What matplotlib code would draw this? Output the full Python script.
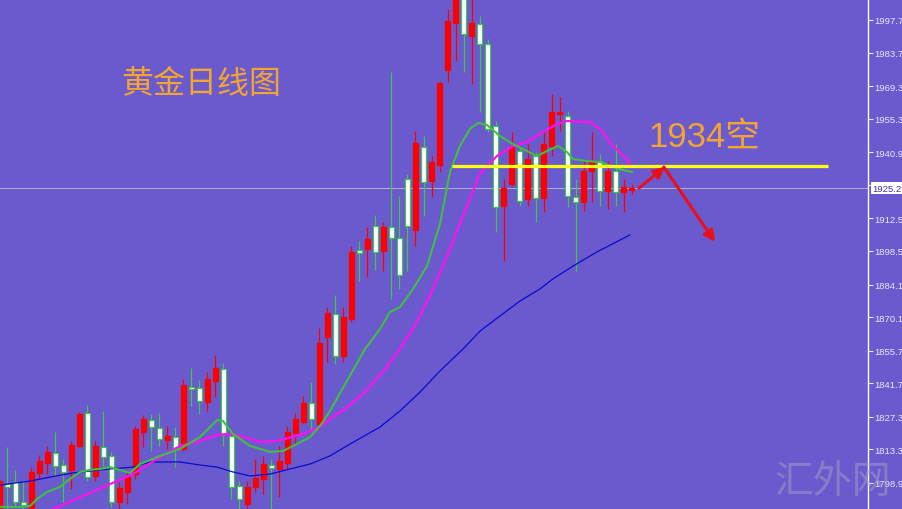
import matplotlib
matplotlib.use('Agg')
import matplotlib.pyplot as plt
import matplotlib.transforms as mtransforms

# daily gold candles (open, high, low, close)
opens = [1785.6, 1798.4, 1799.3, 1790.7, 1787.7, 1803.2, 1807.5, 1811.8, 1806.6, 1804.5,
         1814.8, 1828.9, 1801.9, 1814.3, 1810.5, 1790.7, 1795.0, 1802.7, 1820.8, 1825.9,
         1822.5, 1817.3, 1818.6, 1813.5, 1840.1, 1839.7, 1833.6, 1842.7, 1847.8, 1819.1,
         1797.6, 1789.9, 1797.2, 1800.6, 1806.6, 1804.9, 1807.5, 1820.3, 1825.1, 1833.2,
         1824.2, 1861.6, 1871.4, 1853.4, 1869.3, 1898.9, 1899.3, 1909.2, 1898.5, 1908.8,
         1904.1, 1929.4, 1907.5, 1943.2, 1928.6, 1935.4, 1976.2, 1996.4, 2009.0, 1990.8,
         1996.0, 1987.4, 1952.2, 1917.8, 1927.3, 1941.4, 1920.8, 1939.3, 1921.3, 1943.6,
         1957.3, 1956.5, 1921.7, 1919.5, 1932.8, 1937.1, 1924.3, 1932.8, 1923.8, 1924.7]
highs = [1801.4, 1814.3, 1804.5, 1799.7, 1805.7, 1810.9, 1814.8, 1820.8, 1809.2, 1816.9,
         1829.4, 1832.4, 1816.9, 1829.8, 1812.2, 1799.3, 1804.0, 1823.3, 1828.1, 1828.5,
         1828.9, 1823.3, 1822.9, 1843.5, 1848.3, 1843.1, 1846.5, 1853.8, 1850.4, 1819.9,
         1799.7, 1799.7, 1809.2, 1810.5, 1809.2, 1814.8, 1823.3, 1828.9, 1836.2, 1842.2,
         1865.4, 1874.4, 1879.6, 1874.4, 1900.6, 1902.8, 1908.8, 1914.0, 1910.9, 1975.4,
         1922.1, 1931.6, 1950.0, 1947.9, 1939.3, 1971.1, 2002.4, 2012.0, 2013.0, 2008.0,
         1999.4, 1989.5, 1954.3, 1929.4, 1949.6, 1943.2, 1944.4, 1941.0, 1950.0, 1965.9,
         1964.6, 1958.6, 1929.4, 1937.1, 1949.6, 1940.1, 1937.1, 1944.4, 1929.4, 1927.3]
lows = [1783.4, 1787.7, 1788.6, 1786.8, 1786.8, 1800.6, 1802.7, 1801.9, 1790.7, 1796.3,
        1814.3, 1799.7, 1799.7, 1806.2, 1788.6, 1787.7, 1789.9, 1800.6, 1814.3, 1812.6,
        1814.8, 1813.5, 1805.7, 1812.6, 1831.9, 1828.5, 1829.8, 1836.0, 1814.8, 1792.0,
        1787.7, 1787.7, 1795.0, 1794.2, 1787.7, 1792.9, 1804.9, 1815.6, 1824.2, 1822.1,
        1822.1, 1850.8, 1850.0, 1850.8, 1868.0, 1885.6, 1887.3, 1890.3, 1889.9, 1877.9,
        1882.2, 1889.9, 1900.6, 1913.5, 1921.7, 1932.4, 1971.1, 1980.1, 1975.4, 1970.2,
        1958.2, 1949.6, 1906.6, 1894.2, 1926.4, 1917.8, 1917.8, 1910.9, 1915.2, 1939.3,
        1950.0, 1917.4, 1889.9, 1915.7, 1919.5, 1917.8, 1916.5, 1917.8, 1915.2, 1923.0]
closes = [1799.7, 1797.2, 1790.7, 1789.4, 1803.6, 1808.3, 1812.2, 1806.2, 1803.6, 1815.2,
          1828.5, 1801.4, 1814.8, 1810.0, 1790.7, 1796.7, 1801.9, 1822.1, 1826.4, 1822.9,
          1817.8, 1819.1, 1813.9, 1841.0, 1839.2, 1834.1, 1843.5, 1848.3, 1819.9, 1797.2,
          1792.0, 1797.2, 1801.0, 1807.0, 1805.3, 1808.3, 1820.8, 1826.4, 1833.2, 1826.4,
          1859.0, 1871.9, 1853.4, 1870.2, 1898.1, 1897.6, 1903.6, 1898.1, 1908.8, 1904.1,
          1888.2, 1909.2, 1944.9, 1928.1, 1936.7, 1970.6, 1997.3, 2009.0, 1991.7, 1996.4,
          1987.4, 1950.9, 1917.4, 1925.5, 1943.2, 1920.0, 1938.0, 1921.3, 1944.4, 1958.2,
          1957.8, 1922.1, 1919.5, 1932.8, 1936.7, 1924.3, 1932.8, 1923.8, 1926.0, 1925.5]

# moving averages (bar index, price)
ma_fast_x = [0.12, 2.62, 3.87, 4.74, 5.99, 7.62, 8.86, 10.11, 11.36, 12.61, 13.86, 16.35, 17.6,
             20.1, 22.6, 25.09, 27.22, 27.97, 29.21, 31.34, 33.83, 35.46, 37.2, 38.83, 40.07,
             41.32, 45.69, 47.57, 48.81, 50.06, 51.69, 53.43, 55.06, 56.3, 57.55, 58.8, 59.8,
             60.92, 62.55, 64.17, 65.92, 67.17, 68.41, 69.79, 70.91, 71.66, 73.41, 75.03,
             76.65, 77.9, 79.03]
ma_fast = [1788.6, 1788.6, 1789.0, 1792.0, 1795.0, 1797.2, 1800.6, 1803.6, 1804.5, 1804.9,
           1805.7, 1803.2, 1807.0, 1810.5, 1813.5, 1818.6, 1825.9, 1825.5, 1819.9, 1814.8,
           1812.2, 1812.6, 1815.6, 1818.6, 1823.3, 1829.8, 1856.4, 1865.0, 1872.3, 1874.4,
           1882.2, 1892.0, 1910.1, 1932.4, 1943.6, 1950.9, 1953.5, 1952.6, 1947.9, 1944.4,
           1941.4, 1939.3, 1941.4, 1943.6, 1941.0, 1938.0, 1937.1, 1936.7, 1934.6, 1933.3,
           1932.4]
ma_mid_x = [4.49, 6.74, 10.49, 13.86, 16.73, 19.73, 22.6, 25.09, 27.22, 28.46, 30.09, 32.58,
            34.71, 37.95, 40.07, 41.32, 43.2, 45.69, 48.19, 50.06, 52.18, 54.18, 56.3, 58.42,
            60.05, 62.17, 64.17, 65.92, 67.92, 69.66, 70.91, 73.78, 75.03, 76.65, 78.4, 78.78]
ma_mid = [1784.3, 1787.7, 1793.3, 1798.4, 1802.7, 1809.2, 1814.8, 1816.9, 1819.5, 1819.9,
          1819.1, 1816.5, 1816.9, 1819.9, 1822.9, 1826.4, 1830.6, 1837.9, 1847.8, 1856.4,
          1868.0, 1882.2, 1899.3, 1917.8, 1931.6, 1939.3, 1943.6, 1945.3, 1949.6, 1953.0,
          1954.3, 1953.9, 1950.9, 1943.6, 1938.0, 1935.8]
ma_slow_x = [0.12, 3.87, 6.37, 9.24, 13.86, 16.73, 18.85, 20.97, 22.6, 25.09, 27.22, 29.21,
             31.34, 33.83, 36.33, 38.83, 41.32, 43.82, 47.57, 50.06, 52.56, 55.06, 57.93,
             60.05, 62.55, 65.04, 67.54, 69.16, 71.66, 74.66, 78.78]
ma_slow = [1798.0, 1799.7, 1801.4, 1803.2, 1804.9, 1805.7, 1807.9, 1807.9, 1807.9, 1806.6,
           1805.7, 1803.6, 1801.9, 1802.7, 1804.9, 1807.0, 1810.5, 1815.6, 1822.9, 1829.8,
           1837.9, 1847.0, 1856.4, 1864.1, 1870.6, 1877.0, 1882.2, 1886.5, 1892.0, 1898.1,
           1905.4]

price_ticks = [1997.7, 1983.7, 1969.3, 1955.3, 1940.9, 1926.9, 1912.5, 1898.5, 1884.1,
               1870.1, 1855.7, 1841.7, 1827.3, 1813.3, 1798.9]
last_price = 1925.5
last_label = '1925.2'
short_level = 1934.8
short_span = [56.55, 103.5]
arrow_up = [(79.9, 1925.5), (83.15, 1934.6)]
arrow_down = [(83.0, 1934.6), (89.4, 1902.4)]

bg = '#6a5acd'
fig = plt.figure(figsize=(9.02, 5.10), dpi=100)
fig.patch.set_facecolor(bg)
ax = fig.add_axes([0, 0, 868 / 902, 1])
ax.set_facecolor(bg)

for i in range(len(opens)):
    o, h, l, c = opens[i], highs[i], lows[i], closes[i]
    if c >= o:
        wick, face, edge = '#ff0000', '#ff0000', '#ff0000'
    else:
        wick, face, edge = '#3cc84a', 'white', '#3cc84a'
    ax.vlines(i, l, h, color=wick, lw=0.9, zorder=2)
    ax.bar(i, max(abs(c - o), 0.7), bottom=min(o, c), width=0.62,
           color=face, edgecolor=edge, lw=0.9, zorder=3)

ax.axhline(last_price, color='#b0b0cc', lw=0.7, zorder=1)

ax.plot(ma_slow_x, ma_slow, color='#0a0ad0', lw=0.9, zorder=4)
ax.plot(ma_mid_x, ma_mid, color='#ff10f0', lw=1.6, zorder=4)
ax.plot(ma_fast_x, ma_fast, color='#40c040', lw=1.5, zorder=5)

ax.hlines(short_level, short_span[0], short_span[1], color='#ffff10', lw=2.3, zorder=6)

arrow_style = dict(arrowstyle='-|>', color='#e8101a', lw=2.2, mutation_scale=16,
                   shrinkA=0, shrinkB=0)
ax.annotate('', xy=arrow_up[1], xytext=arrow_up[0], arrowprops=arrow_style, zorder=7)
ax.annotate('', xy=arrow_down[1], xytext=arrow_down[0], arrowprops=arrow_style, zorder=7)

ax.text(0.14, 0.835, '黄金日线图', transform=ax.transAxes, fontsize=23,
        color='#f2a531', family=['Noto Sans CJK SC'], va='center', ha='left')
ax.text(0.7465, 0.732, '1934空', transform=ax.transAxes, fontsize=25,
        color='#f2a531', family=['Liberation Sans', 'Noto Sans CJK SC'],
        va='center', ha='left')

ax.set_xlim(0.12, 108.5)
ax.set_ylim(1787.7, 2006.7)
ax.set_xticks([])
ax.yaxis.tick_right()
ax.set_yticks(price_ticks)
ax.set_yticklabels([f'{v:.1f}' for v in price_ticks], family='Liberation Sans')
ax.tick_params(axis='y', colors='#e8e8f8', labelsize=6.8, length=3.5, width=0.8, pad=1)
for side in ['left', 'top', 'bottom']:
    ax.spines[side].set_visible(False)
ax.spines['right'].set_color('white')
ax.spines['right'].set_linewidth(1)

trans = mtransforms.blended_transform_factory(ax.transAxes, ax.transData)
ax.text(1.005, last_price, last_label, transform=trans, fontsize=6.8, color='#4030a0',
        family='Liberation Sans', va='center', ha='left', clip_on=False, zorder=10,
        bbox=dict(facecolor='white', edgecolor='none', pad=1.0))

fig.text(0.858, 0.055, '汇外网', fontsize=28, color='#a8a8c4', alpha=0.45,
         family=['Noto Sans CJK SC'], va='center', ha='left')

fig.savefig('out.png', dpi=100, facecolor=bg)
